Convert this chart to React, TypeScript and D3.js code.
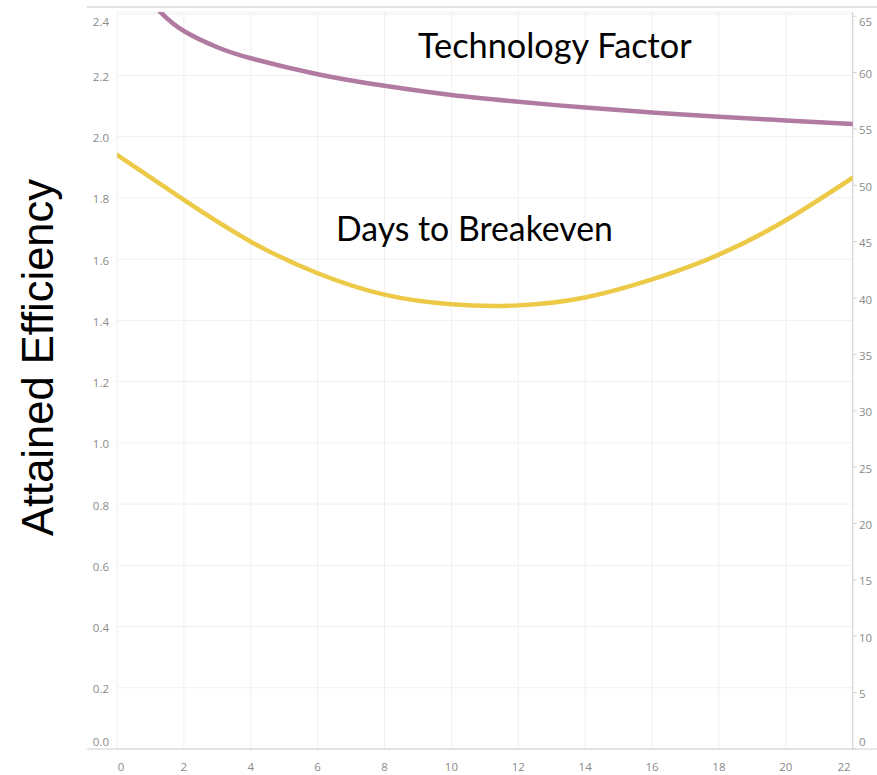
import React from "react";
import * as d3 from "d3";

// ---- data ----
const xTicks = [0, 2, 4, 6, 8, 10, 12, 14, 16, 18, 20, 22];
const leftTicks = [0, 0.2, 0.4, 0.6, 0.8, 1.0, 1.2, 1.4, 1.6, 1.8, 2.0, 2.2, 2.4];
const rightTicks = [0, 5, 10, 15, 20, 25, 30, 35, 40, 45, 50, 55, 60, 65];

const techX = [0.8, 1.3, 2, 3, 4, 6, 8, 10, 12, 14, 16, 18, 20, 22];
const techFactor = [2.467, 2.407, 2.345, 2.292, 2.256, 2.204, 2.166, 2.136, 2.114, 2.095, 2.079, 2.065, 2.053, 2.041];

const daysX = [0, 2, 4, 6, 8, 10, 12, 14, 16, 18, 20, 22];
const daysToBreakeven = [52.7, 48.7, 45.0, 42.2, 40.3, 39.45, 39.35, 40.05, 41.65, 43.85, 46.9, 50.68];

const yTitle = "Attained Efficiency";
const techLabel = "Technology Factor";
const daysLabel = "Days to Breakeven";

export default function App() {
  const W = 877, H = 775;
  const left = 117, right = 852.7, top = 12, bottom = 749;
  const x = d3.scaleLinear().domain([0, 22]).range([left, right]);
  const yL = d3.scaleLinear().domain([0, 2.4]).range([bottom, 14.2]);
  const yR = d3.scaleLinear().domain([0, 65]).range([bottom, 16.2]);

  const techLine = d3
    .line<number>()
    .x((_, i) => x(techX[i]))
    .y((d) => yL(d))
    .curve(d3.curveNatural)(techFactor) || "";
  const daysLine = d3
    .line<number>()
    .x((_, i) => x(daysX[i]))
    .y((d) => yR(d))
    .curve(d3.curveNatural)(daysToBreakeven) || "";

  const clampY = (v: number) => Math.max(21.5, Math.min(741, v));
  const clampX = (v: number) => Math.max(121, Math.min(844, v));
  const tickFont = "'Open Sans', 'Noto Sans', sans-serif";
  const tickColor = "#8a8a8a";

  return (
    <svg
      width={W}
      height={H}
      style={{ position: "absolute", left: 0, top: 0, background: "#fff" }}
    >
      <defs>
        <clipPath id="plot">
          <rect x={left} y={top} width={right - left} height={bottom - top} />
        </clipPath>
      </defs>
      {/* top frame line */}
      <line x1={87} x2={W} y1={7} y2={7} stroke="#d8d8d8" strokeWidth={1.5} />
      <line x1={left} x2={right} y1={top} y2={top} stroke="#f0f0f0" strokeWidth={1} />
      {/* grid */}
      {xTicks.map((t) => (
        <line key={"gx" + t} x1={x(t)} x2={x(t)} y1={top} y2={bottom} stroke="#efefef" strokeWidth={1} />
      ))}
      {leftTicks.map((t) => (
        <line key={"gy" + t} x1={left} x2={right} y1={yL(t)} y2={yL(t)} stroke="#efefef" strokeWidth={1} />
      ))}
      {/* right axis line and ticks */}
      <line x1={right} x2={right} y1={top} y2={bottom} stroke="#d4d4d4" strokeWidth={1.2} />
      {rightTicks.map((t) => (
        <line key={"rt" + t} x1={right} x2={right + 4} y1={yR(t)} y2={yR(t)} stroke="#d4d4d4" strokeWidth={1} />
      ))}
      {/* x axis line */}
      <line x1={87} x2={W} y1={bottom} y2={bottom} stroke="#d0d0d0" strokeWidth={1.2} />

      {/* tick labels */}
      {leftTicks.map((t) => (
        <text
          key={"lt" + t}
          x={109}
          y={clampY(yL(t) + 1)}
          textAnchor="end"
          dominantBaseline="central"
          fontFamily={tickFont}
          fontSize={11.5}
          fill={tickColor}
        >
          {d3.format(".1f")(t)}
        </text>
      ))}
      {rightTicks.map((t) => (
        <text
          key={"rl" + t}
          x={859}
          y={clampY(yR(t) + 1)}
          textAnchor="start"
          dominantBaseline="central"
          fontFamily={tickFont}
          fontSize={11.5}
          fill={tickColor}
        >
          {t}
        </text>
      ))}
      {xTicks.map((t) => (
        <text
          key={"xl" + t}
          x={clampX(x(t))}
          y={766}
          textAnchor="middle"
          dominantBaseline="central"
          fontFamily={tickFont}
          fontSize={11.5}
          fill={tickColor}
        >
          {t}
        </text>
      ))}

      {/* series */}
      <g clipPath="url(#plot)">
        <path d={techLine} fill="none" stroke="#b07aa1" strokeWidth={4.5} strokeLinecap="round" />
        <path d={daysLine} fill="none" stroke="#edc948" strokeWidth={4.5} strokeLinecap="round" />
      </g>

      {/* annotations */}
      <text x={418} y={58} fontFamily="Lato, 'Open Sans', sans-serif" fontSize={34.3} fill="#000">
        {techLabel}
      </text>
      <text x={336} y={241} fontFamily="Lato, 'Open Sans', sans-serif" fontSize={33.8} fill="#000">
        {daysLabel}
      </text>

      {/* y title */}
      <text
        transform="translate(53,357.5) rotate(-90)"
        textAnchor="middle"
        fontFamily="'Liberation Sans', Arial, sans-serif"
        fontSize={43.5}
        fill="#000"
      >
        {yTitle}
      </text>
    </svg>
  );
}
